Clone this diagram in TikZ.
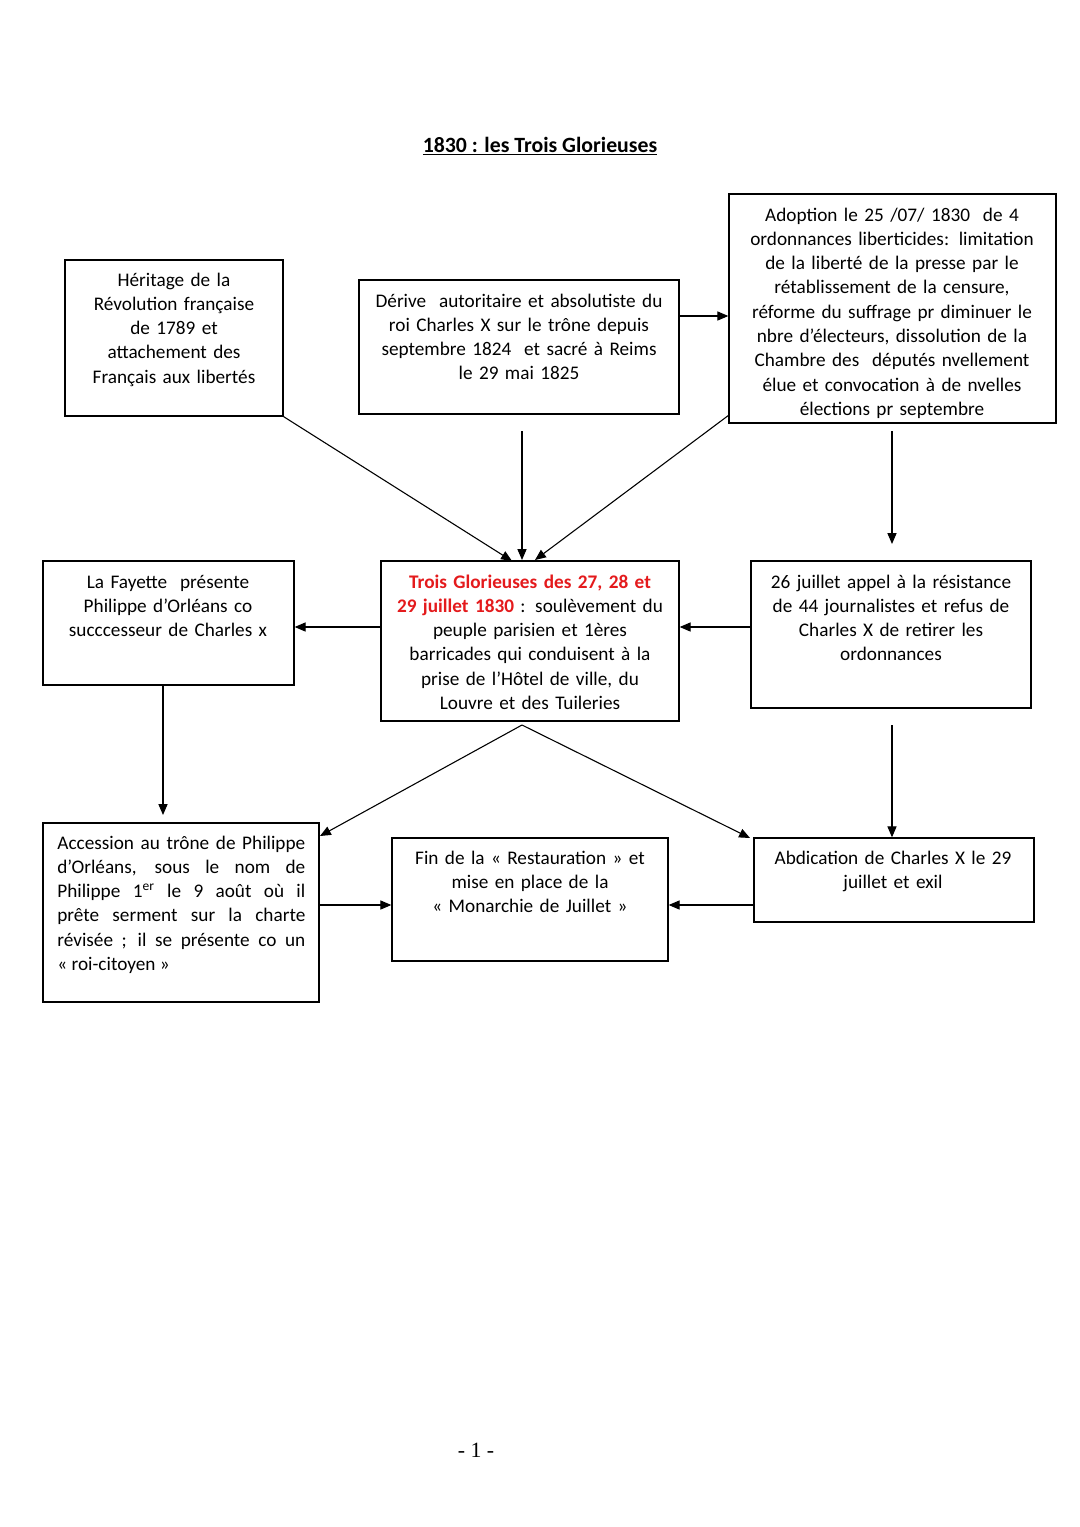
\documentclass[tikz,border=0pt]{standalone}
\usepackage{fontspec}
\setmainfont{Carlito}
\newfontfamily\timesf{Liberation Serif}
\usetikzlibrary{arrows.meta,fit}
\definecolor{gred}{RGB}{228,26,28}
\newcommand{\jline}[1]{\leavevmode\hbox to 136.6pt{#1}}
\begin{document}
\begin{tikzpicture}[x=0.5509pt,y=-0.5509pt,
  box/.style={draw,line width=0.75pt,inner sep=0pt,fit={#1}},
  txt/.style={anchor=base,inner sep=0pt,align=center,text width=190pt,font=\fontsize{10.6pt}{13.4pt}\selectfont},
  arr/.style={line width=0.6pt,-{Triangle[length=6pt,width=5pt]}}]
\useasboundingbox[fill=white] (0,0) rectangle (1080,1527);

\node[anchor=base,inner sep=0pt,font=\bfseries\fontsize{12pt}{14pt}\selectfont] (title) at (540,152) {\underline{1830 : les Trois Glorieuses}};

% boxes
\node[box={(65,260) (283,416)}] (A) {};
\node[box={(359,280) (679,414)}] (B) {};
\node[box={(729,194) (1056,423)}] (C) {};
\node[box={(43,561) (294,685)}] (D) {};
\node[box={(381,561) (679,721)}] (E) {};
\node[box={(751,561) (1031,708)}] (F) {};
\node[box={(43,823) (319,1002)}] (G) {};
\node[box={(392,838) (668,961)}] (H) {};
\node[box={(754,838) (1034,922)}] (I) {};

% texts
\node[txt] (At) at (174,286) {Héritage de la\\Révolution française\\de 1789 et\\attachement des\\Français aux libertés};
\node[txt] (Bt) at (519,307) {Dérive~ autoritaire et absolutiste du\\roi Charles X sur le trône depuis\\septembre 1824~ et sacré à Reims\\le 29 mai 1825};
\begin{scope}
\clip (729,194) rectangle (1056,423);
\node[txt] (Ct) at (892,221) {Adoption le 25 /07/ 1830~ de 4\\ordonnances liberticides: limitation\\de la liberté de la presse par le\\rétablissement de la censure,\\réforme du suffrage pr diminuer le\\nbre d’électeurs, dissolution de la\\Chambre des~ députés nvellement\\élue et convocation à de nvelles\\élections pr septembre};
\end{scope}
\node[txt] (Dt) at (168,588) {La Fayette~ présente\\Philippe d’Orléans co\\succcesseur de Charles x};
\node[txt] (Et) at (530,588) {{\color{gred}\bfseries Trois Glorieuses des 27, 28 et}\\{\color{gred}\bfseries 29 juillet 1830} : soulèvement du\\peuple parisien et 1ères\\barricades qui conduisent à la\\prise de l’Hôtel de ville, du\\Louvre et des Tuileries};
\node[txt] (Ft) at (891,588) {26 juillet appel à la résistance\\de 44 journalistes et refus de\\Charles X de retirer les\\ordonnances};
\node[txt,anchor=base west,text width=136.6pt,align=left] (Gt) at (57,849) {\spaceskip=0.23em plus 1fil\relax
\jline{Accession au trône de Philippe}\\\jline{d’Orléans, sous le nom de}\\\jline{Philippe 1\textsuperscript{er} le 9 août où il}\\\jline{prête serment sur la charte}\\\jline{révisée ; il se présente co un}\\\mbox{« roi-citoyen »}};
\node[txt] (Ht) at (530,864) {Fin de la « Restauration » et\\mise en place de la\\« Monarchie de Juillet »};
\node[txt] (It) at (893,864) {Abdication de Charles X le 29\\juillet et exil};

\node[anchor=base,inner sep=0pt,font=\timesf\fontsize{12pt}{14pt}\selectfont] (page) at (476,1457) {- 1 -};

% coordinates
\coordinate (tA) at (512,561);
\coordinate (sB) at (522,431);
\coordinate (tB) at (522,560);
\coordinate (sC) at (729,415);
\coordinate (tC) at (535,560);
\coordinate (ybc) at (0,316);
\coordinate (sCF) at (892,431);
\coordinate (tCF) at (892,544);
\coordinate (y627) at (0,627);
\coordinate (tDG) at (163,815);
\coordinate (apex) at (522,725);
\coordinate (tEG) at (320,836);
\coordinate (tEI) at (750,838);
\coordinate (sFI) at (892,725);
\coordinate (y905) at (0,905);

% connectors
\draw[arr] (A.south east) -- (tA);
\draw[arr] (sB) -- (tB);
\draw[arr] (sC) -- (tC);
\draw[arr] (B.east |- ybc) -- (C.west |- ybc);
\draw[arr] (sCF) -- (tCF);
\draw[arr] (F.west |- y627) -- (E.east |- y627);
\draw[arr] (E.west |- y627) -- (D.east |- y627);
\draw[arr] (D.south -| tDG) -- (tDG);
\draw[arr] (apex) -- (tEG);
\draw[arr] (apex) -- (tEI);
\draw[arr] (sFI) -- (I.north -| sFI);
\draw[arr] (G.east |- y905) -- (H.west |- y905);
\draw[arr] (I.west |- y905) -- (H.east |- y905);
\end{tikzpicture}
\end{document}
